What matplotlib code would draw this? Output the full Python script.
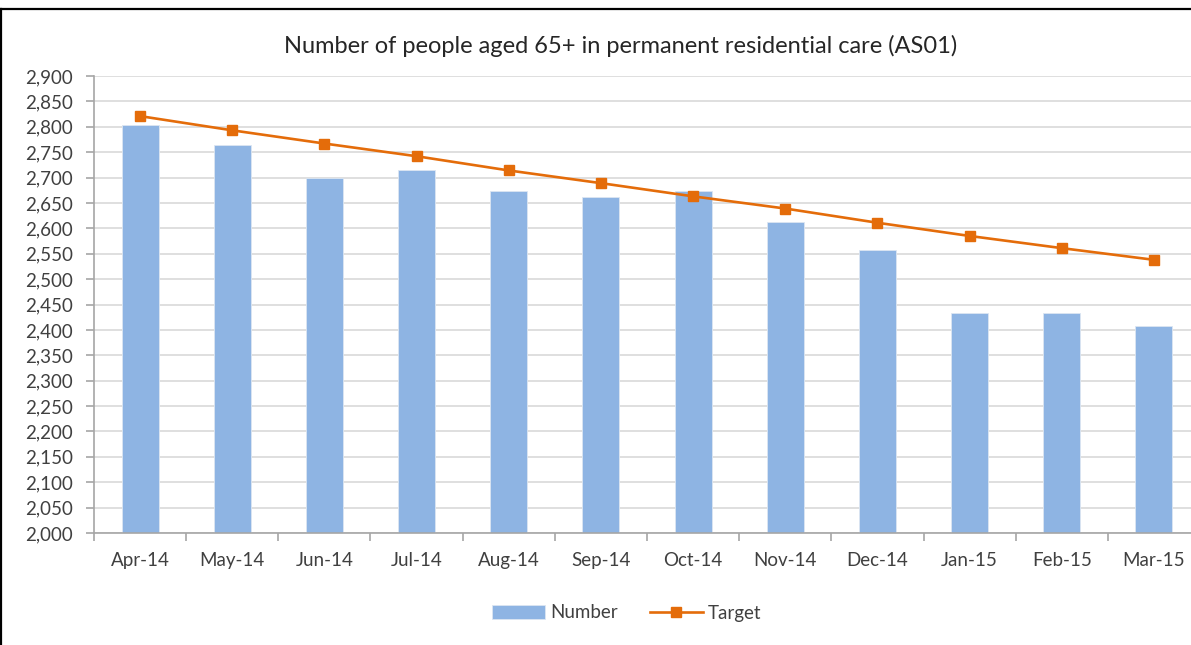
import matplotlib
matplotlib.use("Agg")
import matplotlib.pyplot as plt
from matplotlib.lines import Line2D
from matplotlib.ticker import FuncFormatter, MultipleLocator
import numpy as np

plt.rcParams["font.family"] = ["Lato", "DejaVu Sans"]

months = ["Apr-14", "May-14", "Jun-14", "Jul-14", "Aug-14", "Sep-14",
          "Oct-14", "Nov-14", "Dec-14", "Jan-15", "Feb-15", "Mar-15"]
number = [2803, 2765, 2700, 2714, 2674, 2661, 2674, 2613, 2557, 2434, 2434, 2408]
target = [2821, 2793, 2767, 2742, 2714, 2689, 2663, 2639, 2611, 2585, 2561, 2538]

BAR_COLOR = "#8EB4E3"
LINE_COLOR = "#E46C0A"
TEXT_COLOR = "#404040"
AXIS_COLOR = "#A6A6A6"

W, H = 1191, 645
fig = plt.figure(figsize=(W / 100, H / 100), dpi=100)
fig.patch.set_facecolor("white")

# plot area in pixels: left 94, right ~1200 (cut off by the image edge), top 76, bottom 533
left, right, top, bottom = 94, 1200, 76, 533
ax = fig.add_axes([left / W, 1 - bottom / H, (right - left) / W, (bottom - top) / H])

x = np.arange(len(months))
bars = ax.bar(x, number, width=0.40, color=BAR_COLOR, edgecolor="#DCE6F2",
              linewidth=0.6, zorder=2, label="Number")
line, = ax.plot(x, target, color=LINE_COLOR, linewidth=1.9, marker="s", markersize=7,
                markerfacecolor=LINE_COLOR, markeredgecolor=LINE_COLOR, zorder=3,
                label="Target")

ax.set_xlim(-0.5, len(months) - 0.5)
ax.set_ylim(2000, 2900)
ax.yaxis.set_major_locator(MultipleLocator(50))
ax.yaxis.set_major_formatter(FuncFormatter(lambda v, p: f"{int(v):,}"))
ax.grid(axis="y", color="#D9D9D9", linewidth=1.2, zorder=0)
ax.set_axisbelow(True)

ax.set_xticks(x)
ax.set_xticklabels(months)
ax.set_xticks(np.arange(len(months) + 1) - 0.5, minor=True)
ax.tick_params(axis="x", which="major", length=0, pad=13.5, labelsize=13.5,
               labelcolor=TEXT_COLOR)
ax.tick_params(axis="x", which="minor", length=6, width=1.2, color=AXIS_COLOR,
               direction="out")
ax.tick_params(axis="y", length=6, width=1.2, color=AXIS_COLOR, pad=9,
               labelsize=13.5, labelcolor=TEXT_COLOR)

for s in ["top", "right"]:
    ax.spines[s].set_visible(False)
for s in ["left", "bottom"]:
    ax.spines[s].set_color(AXIS_COLOR)
    ax.spines[s].set_linewidth(1.2)

fig.text(621 / W, 1 - 46 / H, "Number of people aged 65+ in permanent residential care (AS01)",
         ha="center", va="center", fontsize=17, color="#262626")

fig.legend([bars, line], ["Number", "Target"], loc="center",
           bbox_to_anchor=(627 / W, 1 - 613 / H), ncol=2, frameon=False,
           fontsize=13.5, handlelength=2.8, handleheight=0.8, columnspacing=1.7,
           handletextpad=0.3, labelcolor=TEXT_COLOR)

# black frame lines visible at the top and left edges of the image
fig.add_artist(Line2D([0, 1], [1 - 9 / H, 1 - 9 / H], transform=fig.transFigure,
                      color="black", linewidth=1.6))
fig.add_artist(Line2D([1 / W, 1 / W], [0, 1 - 9 / H], transform=fig.transFigure,
                      color="black", linewidth=1.6))

plt.savefig("out.png", dpi=100, facecolor="white")
plt.close()
